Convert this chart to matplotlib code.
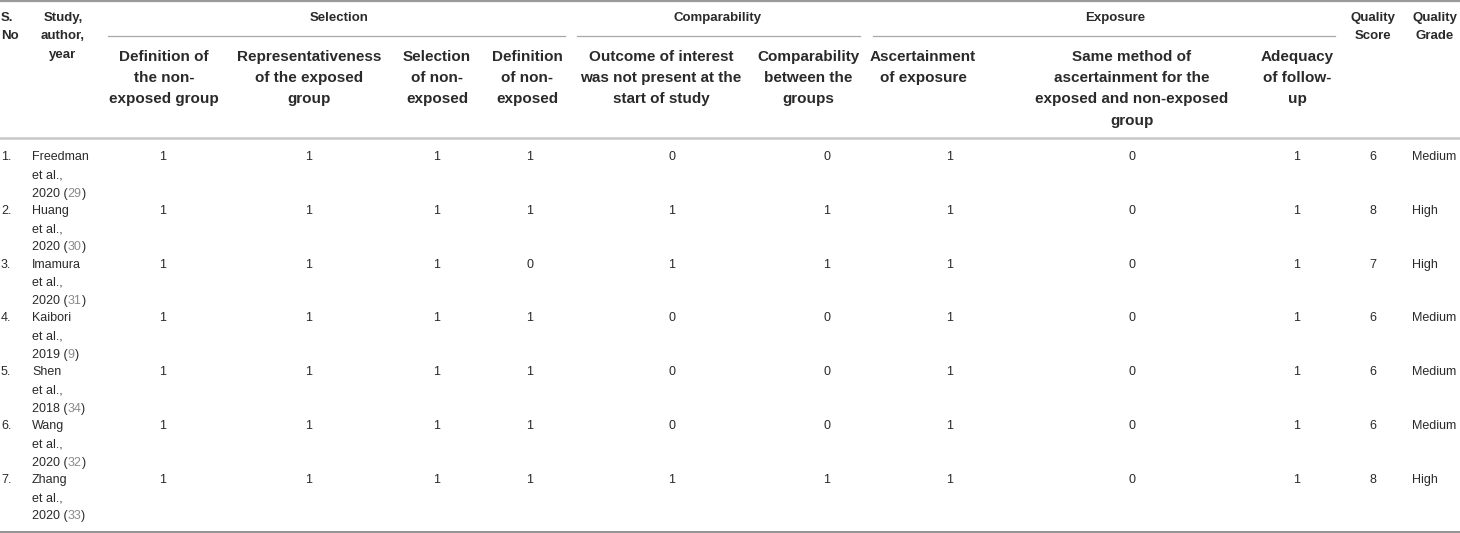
import matplotlib.pyplot as plt
from matplotlib.transforms import Bbox

plt.rcParams['font.family'] = ['Liberation Sans', 'DejaVu Sans']

#### Data
##############################################################################
sno = ['1.', '2.', '3.', '4.', '5.', '6.', '7.']
authors = ['Freedman', 'Huang', 'Imamura', 'Kaibori', 'Shen', 'Wang', 'Zhang']
years = ['2020', '2020', '2020', '2019', '2018', '2020', '2020']
refs = ['29', '30', '31', '9', '34', '32', '33']

def_non_exposed_group = [1, 1, 1, 1, 1, 1, 1]
representativeness = [1, 1, 1, 1, 1, 1, 1]
selection_non_exposed = [1, 1, 1, 1, 1, 1, 1]
definition_non_exposed = [1, 1, 0, 1, 1, 1, 1]
outcome_not_present = [0, 1, 1, 0, 0, 0, 1]
comparability_groups = [0, 1, 1, 0, 0, 0, 1]
ascertainment = [1, 1, 1, 1, 1, 1, 1]
same_method = [0, 0, 0, 0, 0, 0, 0]
adequacy_follow_up = [1, 1, 1, 1, 1, 1, 1]
quality_score = [6, 8, 7, 6, 6, 6, 8]
quality_grade = ['Medium', 'High', 'High', 'Medium', 'Medium', 'Medium', 'High']

groups = ['Selection', 'Comparability', 'Exposure']
sub_headers = [
    ['Definition of', 'the non-', 'exposed group'],
    ['Representativeness', 'of the exposed', 'group'],
    ['Selection', 'of non-', 'exposed'],
    ['Definition', 'of non-', 'exposed'],
    ['Outcome of interest', 'was not present at the', 'start of study'],
    ['Comparability', 'between the', 'groups'],
    ['Ascertainment', 'of exposure'],
    ['Same method of', 'ascertainment for the', 'exposed and non-exposed', 'group'],
    ['Adequacy', 'of follow-', 'up'],
]
score_cols = [def_non_exposed_group, representativeness, selection_non_exposed,
              definition_non_exposed, outcome_not_present, comparability_groups,
              ascertainment, same_method, adequacy_follow_up]

#### Layout (pixels)
##############################################################################
W, H = 1460, 533
sub_hdr_x = [164, 309, 437, 527, 661, 808, 923, 1132, 1297]
val_x = [163, 309, 437, 530, 672, 827, 950, 1132, 1297]
group_x = [339, 718, 1115]
group_span = [(108, 565), (577, 860), (873, 1335)]
score_x, grade_hdr_x, grade_x = 1373, 1435, 1412
row_y0, row_dy, line_dy = 157, 53.8, 18.3

txt_col = '#2a2a2a'
ref_col = '#8a8a8a'

fig = plt.figure(figsize=(W / 100, H / 100), dpi=100)
ax = fig.add_axes([0, 0, 1, 1])
ax.set_xlim(0, W)
ax.set_ylim(H, 0)
ax.axis('off')

# rules
ax.plot([0, W], [1.2, 1.2], color='#9a9a9a', lw=1.6)
ax.plot([0, W], [138, 138], color='#c8c8c8', lw=1.8)
ax.plot([0, W], [531.5, 531.5], color='#8a8a8a', lw=1.3)
for x0, x1 in group_span:
    ax.plot([x0, x1], [36, 36], color='#a8a8a8', lw=0.9)

# header
hdr = dict(fontsize=9.5, fontweight='bold', color=txt_col, va='center')
for i, t in enumerate(['S.', 'No']):
    ax.text(1, 18 + 18 * i, t, ha='left', **hdr)
for i, t in enumerate(['Study,', 'author,', 'year']):
    ax.text(63, 18 + 18.3 * i, t, ha='center', **hdr)
for g, x in zip(groups, group_x):
    ax.text(x, 18, g, ha='center', **hdr)
for i, t in enumerate(['Quality', 'Score']):
    ax.text(score_x, 18 + 18 * i, t, ha='center', **hdr)
for i, t in enumerate(['Quality', 'Grade']):
    ax.text(grade_hdr_x, 18 + 18 * i, t, ha='center', **hdr)
for lines, x in zip(sub_headers, sub_hdr_x):
    for i, t in enumerate(lines):
        ax.text(x, 57 + 21.2 * i, t, ha='center', va='center', fontsize=11,
                fontweight='bold', color=txt_col)

# body
body = dict(fontsize=9, color=txt_col, va='center')
renderer = fig.canvas.get_renderer()
inv = ax.transData.inverted()

def x_after(t):
    bb = t.get_window_extent(renderer=renderer)
    return inv.transform((bb.x1, bb.y0))[0]

for r in range(len(sno)):
    y = row_y0 + row_dy * r
    ax.text(1, y, sno[r], ha='left', **body)
    ax.text(32, y, authors[r], ha='left', **body)
    ax.text(32, y + line_dy, 'et al.,', ha='left', **body)
    t1 = ax.text(32, y + 2 * line_dy, years[r] + ' (', ha='left', **body)
    x1 = x_after(t1)
    t2 = ax.text(x1, y + 2 * line_dy, refs[r], ha='left',
                 fontsize=9, color=ref_col, va='center')
    x2 = x_after(t2)
    ax.text(x2, y + 2 * line_dy, ')', ha='left', **body)
    for col, x in zip(score_cols, val_x):
        ax.text(x, y, str(col[r]), ha='center', **body)
    ax.text(score_x, y, str(quality_score[r]), ha='center', **body)
    ax.text(grade_x, y, quality_grade[r], ha='left', **body)

fig.savefig('out.png', dpi=100)
